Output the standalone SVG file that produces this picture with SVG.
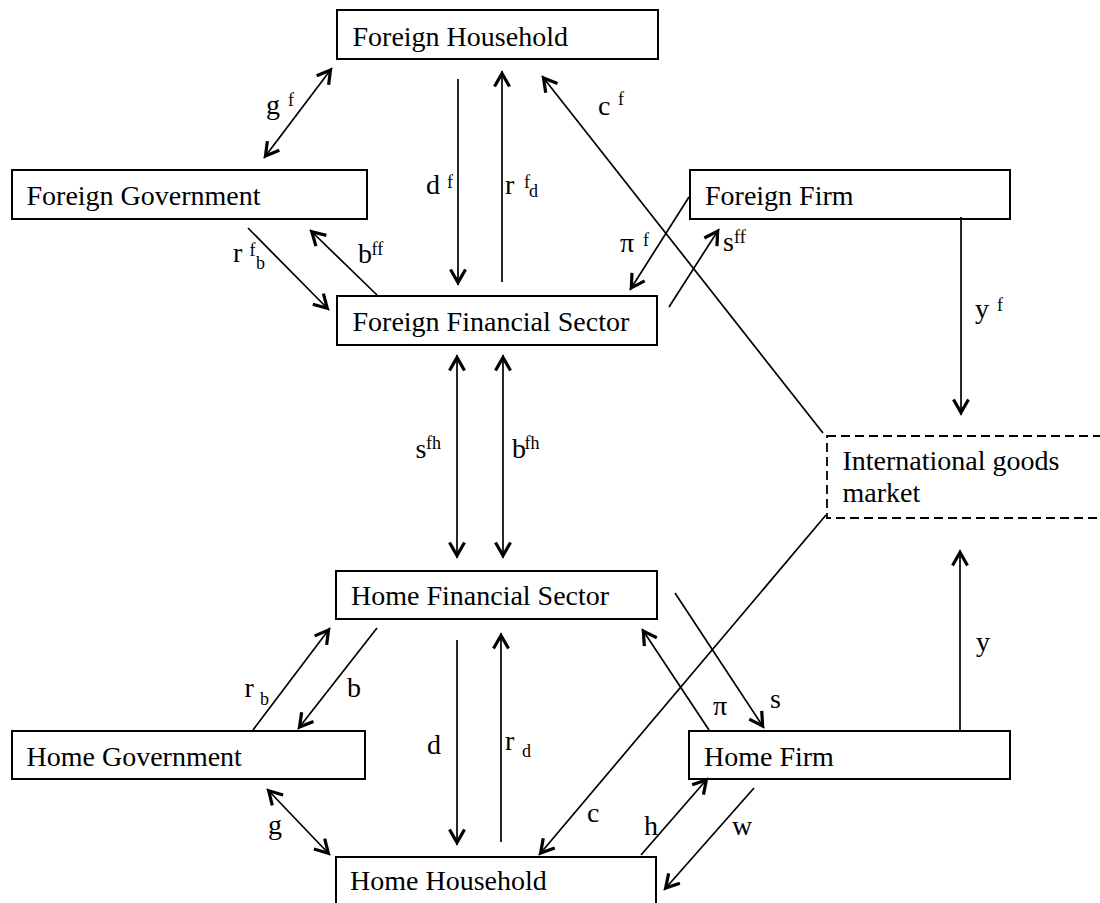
<svg xmlns="http://www.w3.org/2000/svg" width="1100" height="903" viewBox="0 0 1100 903">
<style>
.box{fill:#fff;stroke:#000;stroke-width:2}
.dash{fill:#fff;stroke:#000;stroke-width:1.8;stroke-dasharray:9 5}
.t{font-family:"Liberation Serif","Times New Roman",serif;font-size:28px;fill:#000}
.l{font-family:"Liberation Serif","Times New Roman",serif;font-size:28px;fill:#000}
.s{font-family:"Liberation Serif","Times New Roman",serif;font-size:18px;fill:#000}
.c line{stroke:#000;stroke-width:1.7;fill:none}
.a{marker-end:url(#arr)}
.aa{marker-end:url(#arr);marker-start:url(#arr)}
</style>
<defs>
<marker id="arr" viewBox="-2 -2 20 20" refX="15.5" refY="8" markerWidth="20" markerHeight="20" markerUnits="userSpaceOnUse" orient="auto-start-reverse" overflow="visible">
<path d="M0,0.5 L13,8 L0,15.5" fill="none" stroke="#000" stroke-width="3.2"/>
</marker>
</defs>
<rect width="1100" height="903" fill="#fff"/>

<g id="foreign-household"><rect class="box" x="337" y="10" width="321" height="49"/><text class="t" x="352.5" y="46">Foreign Household</text></g>
<g id="foreign-government"><rect class="box" x="12" y="170" width="355" height="49"/><text class="t" x="26.5" y="205">Foreign Government</text></g>
<g id="foreign-financial"><rect class="box" x="337" y="296" width="320" height="49"/><text class="t" x="352.5" y="331">Foreign Financial Sector</text></g>
<g id="foreign-firm"><rect class="box" x="690" y="170" width="320" height="49"/><text class="t" x="705" y="205">Foreign Firm</text></g>
<g id="intl-market"><rect class="dash" x="827" y="436" width="290" height="82"/><text class="t" x="842.5" y="470">International goods</text><text class="t" x="842.5" y="502">market</text></g>
<g id="home-financial"><rect class="box" x="336" y="571" width="321" height="48"/><text class="t" x="351" y="605">Home Financial Sector</text></g>
<g id="home-government"><rect class="box" x="12" y="731" width="353" height="48"/><text class="t" x="26.5" y="766">Home Government</text></g>
<g id="home-firm"><rect class="box" x="689" y="731" width="321" height="48"/><text class="t" x="704" y="766">Home Firm</text></g>
<g id="home-household"><rect class="box" x="336" y="857" width="320" height="60"/><text class="t" x="350" y="890">Home Household</text></g>

<g id="connectors" class="c">
<line class="aa" x1="264" y1="158" x2="332" y2="68"/>
<line class="a" x1="458" y1="79" x2="458" y2="285"/>
<line class="a" x1="502" y1="282" x2="502" y2="71"/>
<line class="a" x1="823" y1="433" x2="542" y2="76"/>
<line class="a" x1="248" y1="228" x2="329" y2="310"/>
<line class="a" x1="377" y1="295" x2="310" y2="230"/>
<line class="a" x1="689" y1="197" x2="630" y2="290"/>
<line class="a" x1="669" y1="307" x2="719" y2="229"/>
<line class="a" x1="961" y1="217" x2="961" y2="415"/>
<line class="aa" x1="457" y1="355" x2="457" y2="558"/>
<line class="aa" x1="503" y1="355" x2="503" y2="558"/>
<line class="a" x1="253" y1="730" x2="330" y2="628"/>
<line class="a" x1="377" y1="628" x2="298" y2="729"/>
<line class="a" x1="457" y1="640" x2="457" y2="845"/>
<line class="a" x1="501" y1="842" x2="501" y2="633"/>
<line class="aa" x1="267" y1="789" x2="330" y2="855"/>
<line class="a" x1="709" y1="730" x2="642" y2="629"/>
<line class="a" x1="675" y1="593" x2="764" y2="728"/>
<line class="a" x1="960" y1="730" x2="960" y2="550"/>
<line class="a" x1="826" y1="515" x2="539" y2="855"/>
<line class="a" x1="641" y1="855" x2="708" y2="778"/>
<line class="a" x1="754" y1="788" x2="664" y2="890"/>
</g>

<g id="labels">
<text class="l" x="266" y="114">g</text><text class="s" x="288" y="106">f</text>
<text class="l" x="426" y="194">d</text><text class="s" x="447" y="188">f</text>
<text class="l" x="505" y="194">r</text><text class="s" x="524" y="188">f</text><text class="s" x="529" y="197">d</text>
<text class="l" x="598" y="115">c</text><text class="s" x="618" y="105">f</text>
<text class="l" x="233" y="262">r</text><text class="s" x="249.5" y="256">f</text><text class="s" x="256" y="269">b</text>
<text class="l" x="358" y="263">b</text><text class="s" x="371.5" y="255">ff</text>
<text class="l" x="620" y="252">π</text><text class="s" x="643" y="246">f</text>
<text class="l" x="723" y="251">s</text><text class="s" x="734" y="243">ff</text>
<text class="l" x="975" y="318">y</text><text class="s" x="997" y="311">f</text>
<text class="l" x="415.5" y="458">s</text><text class="s" x="426" y="449">fh</text>
<text class="l" x="512" y="458">b</text><text class="s" x="524.5" y="449">fh</text>
<text class="l" x="244.5" y="697">r</text><text class="s" x="260" y="705">b</text>
<text class="l" x="347" y="697">b</text>
<text class="l" x="427" y="754">d</text>
<text class="l" x="505" y="750">r</text><text class="s" x="522" y="757">d</text>
<text class="l" x="268" y="834">g</text>
<text class="l" x="713" y="715">π</text>
<text class="l" x="770" y="708">s</text>
<text class="l" x="976" y="651">y</text>
<text class="l" x="587" y="822">c</text>
<text class="l" x="644" y="835">h</text>
<text class="l" x="732" y="835">w</text>
</g>
</svg>
